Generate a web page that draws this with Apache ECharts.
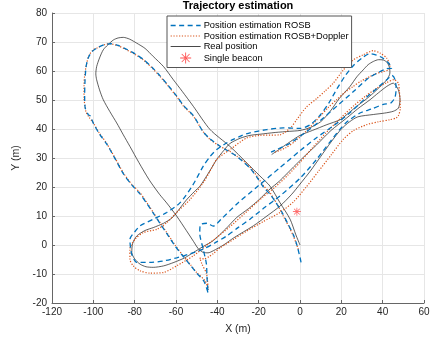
<!DOCTYPE html>
<html><head><meta charset="utf-8">
<script src="https://cdn.jsdelivr.net/npm/echarts@6/dist/echarts.min.js"></script>
<style>html,body{margin:0;padding:0;background:#fff}#c{width:434px;height:341px}</style>
</head><body><div id="c"></div>
<script>
var xTicks = [-120,-100,-80,-60,-40,-20,0,20,40,60];
var yTicks = [-20,-10,0,10,20,30,40,50,60,70,80];
var seriesNames = ['Position estimation ROSB','Position estimation ROSB+Doppler','Real position','Single beacon'];

var realPos = [[0,0],[-2,3.5],[-4.8,8.9],[-9.7,14.6],[-14.5,20.3],[-19.4,23.8],[-25.6,28.2],[-33.9,34],[-43.5,39.8],[-51.6,47.8],[-57,53],[-61.3,57],[-66,61.5],[-71,65],[-75,67.8],[-79,69.6],[-82.5,71],[-85.5,71.6],[-88,71.4],[-90.3,70.7],[-93,69],[-95.2,67.3],[-97,64.5],[-98.4,61.5],[-98.8,59],[-98.4,57],[-97,53.5],[-95.2,50.1],[-92,46],[-88.7,42.1],[-85.5,38],[-82.3,34],[-78,28.5],[-73,22.5],[-68,17.5],[-64.5,14.5],[-59.7,10],[-55,5],[-51.5,1.2],[-49.3,-1.2],[-47,-2.5],[-44.5,-2.7],[-42,-2],[-37,0],[-32,2.5],[-22.6,6.6],[-16,10],[-9.7,13.4],[-4,17.5],[0,21],[5,25.5],[10,30.5],[15,35.5],[20,40],[24,42.5],[28,44.2],[35.5,45],[41,45.5],[45.1,46.1],[47.6,47.2],[48.4,50.1],[47.6,53.5],[45.1,55.8],[42,54.7],[38,52.5],[33.9,50.1],[28,47],[22.6,43.8],[15,39.5],[8,34.5],[2,30.5],[-3,27],[-10,22],[-15,19],[-20,15.5],[-25,12.5],[-30.6,9.5],[-36,5.5],[-42,1.5],[-46.8,-0.5],[-51.6,-2.6],[-56,-4.5],[-61,-6],[-66,-7.2],[-71,-7.7],[-74.5,-7.5],[-77.4,-6.6],[-80,-4.8],[-81.4,-2.6],[-81,0.5],[-79,3.1],[-75,5],[-71,6],[-66,7.5],[-62,9.3],[-59.7,11.2],[-55,15.5],[-51,18.5],[-48.4,20.3],[-45,24],[-42,27.5],[-40.3,29.5],[-37,32.5],[-33.9,35],[-29,36.8],[-24.2,37.8],[-19.4,38.2],[-12,38.8],[-5,39.2],[0,39.5],[5,40.5],[10,42.5],[14.5,46],[19,50.5],[24.2,54.7],[27.5,58],[30.6,60.4],[33,62.2],[35.5,63.3],[38,63.9],[40.3,63.8],[42.2,62.9],[43.3,61.2],[43.5,59.3],[42,57],[39,54.8],[35.5,52.4],[31.5,50],[27.4,47.8],[23,45.2],[19.4,43.2],[13,41.5],[6,39.5],[0,37.8],[-6,35],[-10,33],[-13.7,31.2]];

var estDoppler = [[-0.8,-1.5],[-3.2,3.1],[-5.5,6.5],[-8.1,10],[-11,14],[-14.5,18],[-17.7,20.5],[-22.6,25.5],[-26.5,28.5],[-30.6,30.6],[-34.5,32.5],[-38.7,34],[-43.5,36.4],[-46.8,39],[-51.6,44.4],[-56.5,48],[-59.7,51.2],[-64,55],[-67.7,58.1],[-71.5,61],[-75.8,63.8],[-80,65.8],[-83.9,67.3],[-88,68.7],[-92,69.4],[-95,69],[-98,68],[-100,67.3],[-102,65.5],[-103.2,62.7],[-104.2,58.5],[-104.5,54.7],[-104.5,50.5],[-104,47.8],[-103.5,45.8],[-102,44],[-100,42.1],[-97,38.5],[-93.5,35],[-89.5,30],[-85.5,24.9],[-81.5,21],[-77.4,18],[-74,14.5],[-71,11.2],[-67.5,7.5],[-64.5,4.3],[-60.5,0],[-56.5,-3.7],[-53,-6.8],[-50,-9.5],[-46,-12.3],[-44.4,-15.5],[-45.2,-10],[-47.5,-6.5],[-48.5,-4.5],[-46.5,-4.8],[-44,-4],[-42,-3],[-38.7,-1],[-32,2],[-25.8,4.8],[-18,8],[-9.7,11.2],[-3,15],[3,20],[9,25.5],[15,31],[21,36.5],[26,39.5],[32.3,41.5],[38,42.5],[43.5,43.2],[46.5,43.8],[47.6,44.6],[48.5,47],[48.4,50.1],[48,53.5],[47.6,55.8],[45.5,57],[42,56],[37,54],[32,51.5],[26,48],[20,44],[13,39],[6,33.5],[0,28.5],[-6,24],[-12,20],[-18,16.5],[-25.8,11.5],[-32,7.5],[-38.7,3.5],[-45,0],[-51.6,-3.7],[-59.7,-7.2],[-66.1,-9.5],[-72.6,-9.7],[-77.4,-8.9],[-80.7,-7.2],[-82.3,-4.9],[-82.3,-1.4],[-79.8,2],[-75.8,4.3],[-69.3,5.4],[-64.5,7.7],[-59.7,11.2],[-53.2,15.7],[-46.8,21.5],[-43.5,25.5],[-40.3,29.5],[-33.9,32.9],[-25.8,36.9],[-19.4,37.8],[-9.7,38],[-4.5,40.5],[-1.6,43.2],[3,47.5],[8.1,50.5],[12,53],[16.1,55.8],[21,60.4],[25.8,63.8],[30.6,65.6],[35.5,67],[38.7,66.2],[42,64.4],[43.5,61.6],[42.5,60.3],[40.3,59.8],[36.5,59],[33.9,58.1],[29.5,56.5],[25.8,54.7],[21.5,52.5],[17.7,50.1],[13.5,47.3],[9.7,44.4],[4,40],[-2,36],[-7,33.5],[-12,32]];

var estROSB = [[0.5,-6],[0,-4.3],[-1.5,0],[-3.2,3.5],[-6,7.5],[-8.5,11],[-12,15],[-14.5,17.5],[-17.7,20],[-21,23.5],[-24.2,26.5],[-28,29],[-31,30.8],[-35,32.5],[-39,34.2],[-43.5,36.6],[-47,39.2],[-51.6,44.6],[-56.5,48.2],[-59.7,51.4],[-64,55.2],[-67.7,58.3],[-71.5,61.2],[-75.8,64],[-80,66],[-83.9,67.5],[-88,68.8],[-91.5,69.4],[-95,69],[-98,68],[-100.5,66.8],[-102.5,64.5],[-103.5,61.5],[-104,57],[-104.2,52],[-104,47.5],[-102.5,45],[-101.5,44.5],[-100,42],[-97,38.2],[-93.5,34.8],[-89.5,29.8],[-85.5,24.6],[-81.5,20.8],[-77.4,17.6],[-74,14.2],[-71,11],[-67.5,7.2],[-64.5,4],[-60.5,-0.3],[-56.5,-4],[-53,-7],[-50,-9.7],[-46.5,-12.5],[-44.5,-16.5],[-45,-11],[-45.3,-6.5],[-46.8,-1.5],[-48.5,4],[-48.2,7],[-45,7.5],[-42,6.5],[-38,9],[-30,14.5],[-20,20.5],[-10,26.5],[0,32.5],[8,37],[16,41],[24,45.5],[32.3,51],[38,54.5],[42,57],[44.5,58.5],[46,57],[46.5,54],[46,51],[44,49],[40.3,48.5],[35,47],[29,45.5],[22,42],[15,36],[8,29.5],[0,23],[-9.7,16.9],[-17,13],[-24.2,8.9],[-30,6],[-35.5,3.1],[-41,0.8],[-46.8,-1.4],[-53,-3],[-59.7,-4.4],[-66.1,-5.5],[-72.6,-6],[-79,-6],[-81.5,-3],[-82.3,2],[-80,4.5],[-77.4,6.6],[-71,8.9],[-64.5,11.2],[-58,14.6],[-52,20.5],[-46.8,27.2],[-43.5,30.5],[-40.3,32.9],[-36,35],[-32.3,36.4],[-28,37.8],[-24.2,38.7],[-16,39.8],[-8.1,40.4],[0,40.2],[5,41.5],[10,45],[14,49],[18,54],[22,58.5],[26,62],[30,64.5],[33.9,66],[37,65.5],[40,64.5],[42.5,63],[44.4,61],[42,60.8],[38,59.5],[33,57.5],[26,53],[18,48],[10,43],[3,39],[-5,35],[-11,33],[-14,32]];

var beacon = [[-1.5, 11.5]];

var asterisk = 'path://M4.6,0h0.8v10h-0.8z M0,4.6h10v0.8h-10z M1.2,1.7l0.5,-0.5l7.1,7.1l-0.5,0.5z M8.8,1.7l-0.5,-0.5l-7.1,7.1l0.5,0.5z';

var chart = echarts.init(document.getElementById('c'), null, {renderer:'canvas'});
var fam = 'Liberation Sans, Arial, sans-serif';
var axisTxt = {color:'#262626', fontSize:10, fontFamily:fam};
var hideSym = {opacity:0};
chart.setOption({
  animation:false,
  backgroundColor:'#fff',
  title:{text:'Trajectory estimation', left:238, top:0, padding:0, textAlign:'center',
    textStyle:{fontSize:11, fontWeight:'bold', color:'#000', fontFamily:fam}},
  grid:{left:52, right:10, top:13, bottom:38, containLabel:false},
  xAxis:{type:'value', min:-120, max:60, interval:20,
    name:'X (m)', nameLocation:'middle', nameGap:21,
    nameTextStyle:{color:'#262626', fontSize:10.5, fontFamily:fam},
    axisLine:{onZero:false, lineStyle:{color:'#666', width:1}},
    axisTick:{inside:true, length:3, lineStyle:{color:'#666'}},
    axisLabel:Object.assign({margin:4, formatter:function(v){return xTicks.indexOf(v)>=0?String(v):'';}}, axisTxt),
    splitLine:{show:true, lineStyle:{color:'#e6e6e6', width:1}}},
  yAxis:{type:'value', min:-20, max:80, interval:10,
    name:'Y (m)', nameLocation:'middle', nameGap:24, nameRotate:90,
    nameTextStyle:{color:'#262626', fontSize:10.5, fontFamily:fam},
    axisLine:{onZero:false, lineStyle:{color:'#666', width:1}},
    axisTick:{inside:true, length:3, lineStyle:{color:'#666'}},
    axisLabel:Object.assign({margin:5, formatter:function(v){return yTicks.indexOf(v)>=0?String(v):'';}}, axisTxt),
    splitLine:{show:true, lineStyle:{color:'#e6e6e6', width:1}}},
  legend:{orient:'vertical', left:167, top:16,
    backgroundColor:'#fff', borderColor:'#555', borderWidth:1,
    padding:[5,3,4,3], itemGap:1.5, itemWidth:30, itemHeight:11,
    textStyle:{fontSize:9.3, color:'#000', fontFamily:fam, padding:[0,0,0,-2]},
    data:[
      {name:seriesNames[0], itemStyle:hideSym, lineStyle:{width:1.3}},
      {name:seriesNames[1], itemStyle:hideSym, lineStyle:{width:1.2}},
      {name:seriesNames[2], itemStyle:hideSym, lineStyle:{width:0.8}},
      {name:seriesNames[3], icon:asterisk}
    ]},
  series:[
    {name:seriesNames[2], type:'line', data:realPos, symbol:'none', smooth:0.25, z:2,
      lineStyle:{color:'#1a1a1a', width:0.7}, itemStyle:{color:'#1a1a1a'}},
    {name:seriesNames[1], type:'line', data:estDoppler, symbol:'none', smooth:0.25, z:3,
      lineStyle:{color:'#D95319', width:1.2, type:[1.2,1.6]}, itemStyle:{color:'#D95319'}},
    {name:seriesNames[0], type:'line', data:estROSB, symbol:'none', smooth:0.25, z:4,
      lineStyle:{color:'#0072BD', width:1.3, type:[5,3.5]}, itemStyle:{color:'#0072BD'}},
    {name:seriesNames[3], type:'scatter', data:beacon, symbol:asterisk, symbolSize:8, z:5,
      itemStyle:{color:'#ff2020'}}
  ]
});
</script></body></html>
